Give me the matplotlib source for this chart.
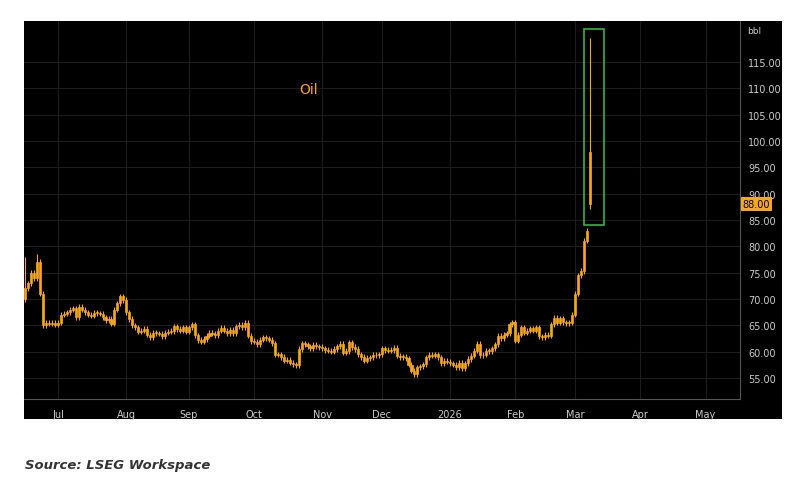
import matplotlib
matplotlib.use("Agg")
import matplotlib.pyplot as plt
from matplotlib.patches import Rectangle
import pandas as pd
import numpy as np

closes = [72,73,75,74,77, 71,65,65.5,65.3,65.5, 65.1,65.5,67,67.2,67.5,
          68,68.2,66.5,68.5,68, 67.5,67,66.8,67.4,67.3, 67.2,66.5,66,66.2,65.3,
          68,69.2,70.5,69.8,67.5, 66.2,65,64.6,63.8,64, 64.3,63.2,62.8,63.6,63.5,
          63.4,62.9,63.6,63.8,63.9, 64.8,64.3,64,64.6,63.8, 64.6,65.2,63.1,62.2,61.9,
          62.4,63,63.6,63.4,63.1, 64,64.5,64,63.5,64.2, 63.5,64.8,65.1,64.6,65.5,
          63,62,61.9,61.4,62.3, 62.7,62.5,62.3,61.6,59.4, 59.5,59,58.3,58.5,57.9,
          57.6,57.4,60.5,61.6,61.4, 61,60.7,61.3,61,60.9, 60.6,60.3,60.2,60,60.5,
          61,61.5,59.8,60.1,61.8, 60.9,60.5,59.5,59,58.3, 58.8,58.9,59.4,59.3,59.5,
          60.6,60.3,60.2,60.3,60.7, 59.2,59,59,58.7,57.5, 56.4,55.7,57,57.2,57.6,
          58.9,59.4,59.2,59.5,58.9, 57.8,58.2,58.1,57.8,57.5, 57,57.9,56.9,57.8,58.6,
          59.2,60.2,61.5,59.3,59.4, 60.2,60.1,60.6,61.4,63, 62.5,63.2,63.5,65.2,65.6,
          62.1,63.2,64.6,63.6,64, 64.4,64,64.6,62.9,62.8, 63.2,63,65.2,66.4,65.5,
          66.3,65.6,65.4,65.5,67, 71,74.5,75.3,81.1,83, 88]
last_open, last_high, last_low = 98, 119.5, 87
yticks = [55,60,65,70,75,80,85,90,95,100,105,110,115]
month_labels = ["Jul","Aug","Sep","Oct","Nov","Dec","2026","Feb","Mar","Apr","May"]
month_dates = pd.date_range("2025-07-01", periods=11, freq="MS")

all_days = pd.bdate_range("2025-06-16", "2026-06-30")
month_idx = [all_days.searchsorted(d) for d in month_dates]
x = np.arange(len(closes))
opens = [70] + closes[:-1]
opens[-1] = last_open
highs = [max(o, c) + 0.5 for o, c in zip(opens, closes)]
lows = [min(o, c) - 0.5 for o, c in zip(opens, closes)]
highs[-1] = last_high; lows[-1] = last_low
highs[0] = 78; highs[4] = 78.5

W, H = 800, 489
fig = plt.figure(figsize=(8, 4.89), dpi=100)
fig.patch.set_facecolor("white")
fig.add_artist(Rectangle((24/W, 1-420/H), (782-24)/W, 398/H, transform=fig.transFigure,
                         facecolor="black", edgecolor="none", zorder=0))
ax = fig.add_axes([24/W, 1-400/H, 716/W, 378/H])
ax.set_facecolor("black")
orange = "#f5a623"
for xi, o, h, l, c in zip(x, opens, highs, lows, closes):
    ax.vlines(xi, l, h, color=orange, lw=0.8, zorder=3)
    ax.add_patch(Rectangle((xi-0.35, min(o, c)), 0.7, max(abs(c-o), 0.15),
                           facecolor=orange, edgecolor=orange, lw=0.5, zorder=4))
ax.set_xlim(-0.45, 240.6)
ax.set_ylim(51, 122.8)
ax.set_yticks(yticks)
ax.set_yticklabels([f"{v:.2f}" for v in yticks])
ax.yaxis.tick_right()
ax.set_xticks(month_idx)
ax.set_xticklabels(month_labels)
ax.tick_params(colors="#cccccc", labelsize=7, length=0)
ax.tick_params(axis="y", pad=6)
ax.tick_params(axis="x", pad=7)
ax.grid(True, color="#1c1c1c", lw=0.8)
for s in ["top", "left"]:
    ax.spines[s].set_visible(False)
ax.spines["right"].set_color("#555555")
ax.spines["bottom"].set_color("#555555")
ax.text(0.385, 0.81, "Oil", transform=ax.transAxes, color=orange, fontsize=10)
ax.add_patch(Rectangle((188.1, 84), 6.7, 37.2, fill=False, edgecolor="#3cb043", lw=1.2, zorder=5))
ax.text(1.004, 88, "88.00", transform=ax.get_yaxis_transform(), color="black", fontsize=7,
        va="center", ha="left", bbox=dict(boxstyle="square,pad=0.2", fc=orange, ec="none"))
ax.text(1.01, 0.975, "bbl", transform=ax.transAxes, color="#cccccc", fontsize=6.5, va="center")
fig.text(25/W, 1-466/H, "Source: LSEG Workspace", fontsize=9.5, fontweight="bold",
         style="italic", color="#333333", va="center")
fig.savefig("out.png", dpi=100)
